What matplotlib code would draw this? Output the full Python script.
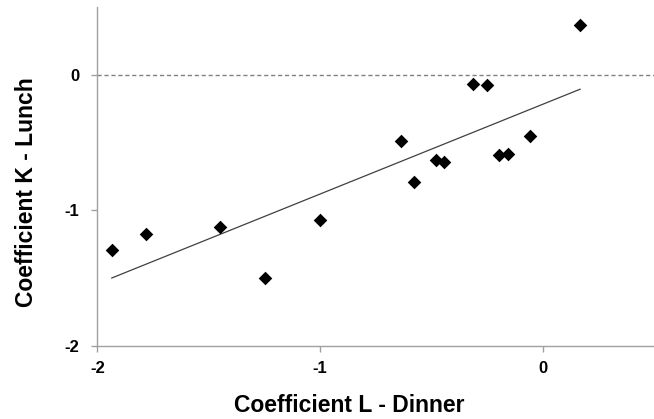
import matplotlib
matplotlib.use("Agg")
import matplotlib.pyplot as plt
import numpy as np

plt.rcParams['font.family'] = ['Liberation Sans', 'DejaVu Sans']

coef_L_dinner = [-1.935, -1.78, -1.448, -1.248, -1.0, -0.635, -0.58, -0.477, -0.441,
                 -0.311, -0.25, -0.196, -0.154, -0.057, 0.168]
coef_K_lunch = [-1.294, -1.176, -1.126, -1.498, -1.07, -0.492, -0.795, -0.627, -0.644,
                -0.064, -0.074, -0.59, -0.588, -0.45, 0.367]
xticks = [-2, -1, 0]
yticks = [-2, -1, 0]

fig = plt.figure(figsize=(6.54, 4.19), dpi=100)
ax = fig.add_axes([0.1488, 0.175, 0.8512, 0.808])

x = np.array(coef_L_dinner)
y = np.array(coef_K_lunch)
slope, intercept = np.polyfit(x, y, 1)
xl = np.array([x.min(), x.max()])
ax.plot(xl, slope * xl + intercept, color='#404040', lw=0.9, zorder=2)
ax.axhline(0, color='#808080', lw=1.0, ls=(0, (3, 2)), zorder=1)
ax.scatter(x, y, marker='D', s=48, color='black', zorder=3, linewidths=0)

ax.set_xlim(-2, 0.5)
ax.set_ylim(-2, 0.5)
ax.set_xticks(xticks)
ax.set_yticks(yticks)
ax.set_xticklabels([str(v) for v in xticks], fontsize=12, fontweight='bold')
ax.set_yticklabels([str(v) for v in yticks], fontsize=12, fontweight='bold')
for s in ['top', 'right']:
    ax.spines[s].set_visible(False)
for s in ['left', 'bottom']:
    ax.spines[s].set_color('#a0a0a0')
    ax.spines[s].set_linewidth(1.0)
ax.tick_params(axis='both', colors='#a0a0a0', labelcolor='black', length=4, width=1)
ax.tick_params(axis='x', pad=7)
ax.tick_params(axis='y', pad=9)

ax.set_xlabel('Coefficient L - Dinner', fontsize=16.5, fontweight='bold')
ax.set_ylabel('Coefficient K - Lunch', fontsize=16.5, fontweight='bold')
ax.xaxis.set_label_coords(0.452, -0.144)
ax.yaxis.set_label_coords(-0.106, 0.453)

fig.savefig('out.png', dpi=100)
